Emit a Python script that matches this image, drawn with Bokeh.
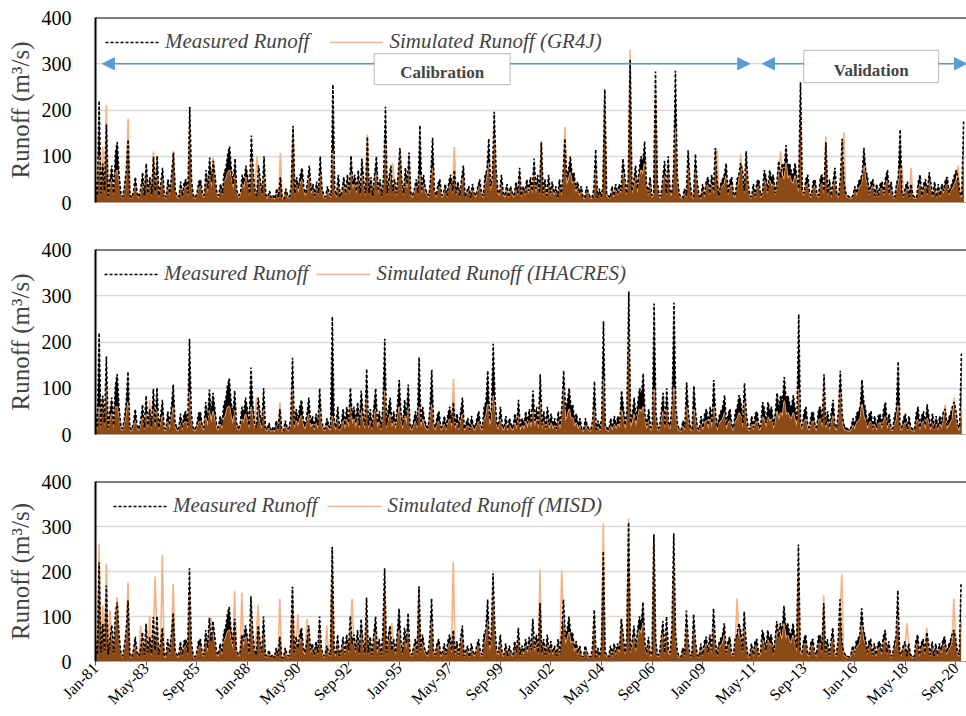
import numpy as np
from bokeh.plotting import figure
from bokeh.layouts import column
from bokeh.models import (Range1d, FixedTicker, Legend, LegendItem, Span, Arrow,
                          NormalHead, BoxAnnotation, Label)
from bokeh.embed import file_html
from bokeh.resources import INLINE

# Monthly runoff (m3/s), Jan-1981 .. Dec-2020, one row per year
measured = [
    45, 15, 220, 20, 84, 25, 169, 15, 50, 80, 20, 106,
    131, 60, 20, 12, 35, 70, 136, 15, 10, 25, 55, 20,
    12, 30, 65, 15, 84, 20, 55, 18, 99, 25, 101, 15,
    40, 75, 15, 12, 50, 20, 60, 108, 25, 15, 12, 45,
    15, 45, 50, 20, 207, 45, 15, 10, 20, 45, 50, 20,
    15, 70, 30, 97, 45, 90, 55, 20, 15, 40, 20, 65,
    75, 105, 121, 70, 40, 95, 25, 15, 20, 60, 45, 80,
    55, 20, 145, 65, 25, 15, 80, 45, 20, 100, 15, 12,
    25, 10, 15, 8, 30, 12, 55, 10, 8, 30, 15, 12,
    35, 166, 20, 55, 30, 60, 75, 30, 20, 45, 80, 25,
    40, 15, 45, 20, 100, 30, 15, 12, 35, 20, 15, 255,
    30, 15, 60, 12, 25, 55, 20, 60, 25, 101, 40, 60,
    25, 70, 20, 95, 45, 20, 142, 20, 55, 15, 60, 100,
    25, 50, 15, 60, 207, 20, 55, 80, 25, 50, 20, 60,
    118, 45, 20, 75, 40, 108, 20, 15, 30, 50, 20, 167,
    25, 60, 30, 20, 15, 55, 140, 25, 15, 40, 50, 15,
    20, 40, 15, 45, 60, 25, 70, 20, 45, 15, 50, 80,
    12, 25, 35, 10, 40, 20, 15, 35, 50, 20, 15, 60,
    70, 138, 35, 55, 196, 75, 25, 20, 60, 20, 15, 40,
    12, 35, 20, 15, 45, 20, 75, 15, 35, 20, 50, 25,
    55, 25, 95, 30, 60, 20, 130, 20, 50, 15, 60, 20,
    45, 20, 35, 12, 50, 20, 60, 138, 55, 70, 100, 60,
    65, 30, 45, 20, 35, 12, 10, 35, 20, 12, 10, 30,
    115, 10, 30, 12, 35, 245, 20, 15, 10, 35, 15, 40,
    20, 40, 25, 95, 60, 20, 50, 309, 25, 45, 80, 30,
    70, 100, 85, 132, 40, 20, 55, 15, 20, 283, 45, 15,
    15, 50, 90, 20, 100, 25, 20, 70, 285, 60, 20, 12,
    10, 30, 15, 113, 45, 15, 12, 105, 45, 15, 10, 40,
    15, 45, 55, 20, 60, 25, 118, 45, 15, 40, 50, 60,
    85, 20, 45, 55, 20, 15, 50, 60, 85, 70, 25, 111,
    45, 15, 12, 40, 15, 45, 50, 15, 20, 70, 55, 25,
    70, 50, 60, 20, 45, 90, 55, 85, 70, 124, 75, 85,
    65, 60, 85, 55, 30, 260, 25, 20, 50, 60, 20, 15,
    45, 50, 20, 15, 55, 60, 25, 130, 20, 50, 15, 45,
    75, 20, 15, 50, 138, 45, 20, 15, 12, 10, 15, 35,
    20, 45, 50, 60, 118, 70, 55, 20, 45, 50, 15, 40,
    15, 40, 45, 20, 55, 70, 20, 45, 15, 12, 40, 55,
    158, 20, 15, 35, 45, 12, 40, 15, 12, 10, 45, 60,
    15, 40, 50, 20, 65, 40, 15, 45, 12, 40, 15, 40,
    25, 50, 55, 20, 35, 45, 60, 70, 50, 20, 15, 175,
]

sim_gr4j = [
    30, 10, 100, 14, 120, 18, 210, 10, 35, 50, 14, 60,
    70, 40, 14, 8, 25, 45, 181, 10, 7, 18, 35, 14,
    8, 20, 40, 10, 85, 14, 38, 12, 110, 18, 60, 10,
    28, 50, 10, 8, 35, 14, 40, 112, 18, 10, 8, 30,
    10, 30, 35, 14, 160, 30, 10, 7, 14, 30, 35, 14,
    10, 45, 20, 60, 30, 97, 38, 14, 10, 28, 14, 45,
    50, 65, 70, 48, 28, 60, 18, 10, 14, 40, 30, 55,
    38, 14, 90, 45, 18, 100, 55, 30, 14, 60, 10, 8,
    18, 7, 10, 6, 20, 8, 107, 7, 6, 20, 10, 8,
    25, 160, 14, 38, 20, 40, 50, 20, 14, 30, 55, 18,
    28, 10, 30, 14, 65, 20, 10, 8, 25, 14, 10, 112,
    20, 10, 40, 8, 18, 38, 14, 40, 18, 65, 28, 40,
    18, 48, 14, 60, 30, 14, 147, 14, 38, 10, 40, 65,
    18, 35, 10, 40, 127, 14, 38, 55, 85, 35, 14, 40,
    115, 30, 14, 50, 28, 70, 14, 10, 20, 35, 14, 60,
    18, 40, 20, 14, 10, 38, 75, 18, 10, 28, 35, 10,
    14, 28, 10, 30, 40, 18, 120, 14, 30, 10, 35, 55,
    8, 18, 25, 7, 28, 14, 10, 25, 35, 14, 10, 40,
    48, 85, 25, 38, 145, 50, 18, 14, 40, 14, 10, 28,
    8, 25, 14, 10, 30, 14, 55, 10, 25, 14, 35, 18,
    38, 18, 65, 20, 40, 14, 133, 14, 35, 10, 40, 14,
    30, 14, 25, 8, 35, 14, 40, 163, 38, 48, 65, 40,
    45, 20, 30, 14, 25, 8, 7, 25, 14, 8, 7, 20,
    70, 7, 20, 8, 25, 240, 14, 10, 7, 25, 10, 28,
    14, 28, 18, 65, 40, 14, 35, 330, 18, 30, 55, 20,
    48, 70, 60, 85, 28, 14, 38, 10, 14, 245, 30, 10,
    10, 35, 60, 14, 70, 18, 14, 48, 160, 40, 14, 8,
    7, 20, 10, 75, 30, 10, 8, 70, 30, 10, 7, 28,
    10, 30, 38, 14, 40, 18, 80, 116, 10, 28, 35, 40,
    58, 14, 30, 38, 14, 10, 35, 40, 104, 48, 18, 75,
    30, 10, 8, 28, 10, 30, 35, 10, 14, 48, 38, 18,
    48, 35, 40, 14, 30, 60, 111, 58, 48, 85, 50, 58,
    45, 40, 58, 38, 20, 227, 18, 14, 35, 40, 14, 10,
    30, 35, 14, 10, 38, 40, 18, 143, 14, 35, 10, 30,
    50, 14, 10, 35, 100, 152, 14, 10, 8, 7, 10, 25,
    14, 30, 35, 40, 80, 48, 38, 14, 30, 35, 10, 28,
    10, 28, 30, 14, 38, 48, 14, 30, 10, 8, 28, 38,
    70, 80, 10, 25, 30, 8, 75, 10, 8, 7, 30, 40,
    10, 28, 35, 14, 45, 28, 10, 30, 8, 28, 10, 28,
    18, 35, 38, 14, 25, 30, 40, 48, 80, 14, 10, 100,
]

sim_ihacres = [
    25, 8, 60, 11, 80, 14, 106, 8, 28, 45, 11, 58,
    60, 33, 11, 7, 19, 38, 70, 8, 6, 14, 30, 11,
    7, 17, 36, 8, 46, 11, 75, 10, 54, 14, 55, 8,
    22, 41, 8, 7, 28, 11, 33, 59, 14, 8, 7, 25,
    8, 25, 28, 11, 91, 25, 8, 6, 11, 25, 28, 11,
    8, 38, 17, 53, 25, 50, 30, 11, 8, 22, 11, 36,
    41, 58, 60, 38, 22, 52, 14, 8, 11, 33, 25, 44,
    30, 11, 60, 36, 14, 80, 44, 25, 11, 55, 8, 7,
    14, 6, 8, 5, 17, 7, 70, 6, 5, 17, 8, 7,
    19, 100, 11, 30, 17, 33, 41, 17, 11, 25, 44, 14,
    22, 8, 25, 11, 55, 17, 8, 7, 19, 11, 8, 40,
    17, 8, 33, 7, 14, 30, 11, 33, 14, 60, 22, 33,
    14, 38, 11, 52, 25, 11, 78, 11, 30, 8, 33, 55,
    14, 28, 8, 33, 95, 11, 30, 44, 14, 28, 11, 33,
    60, 25, 11, 41, 22, 59, 11, 8, 17, 28, 11, 60,
    14, 33, 17, 11, 8, 30, 65, 14, 8, 22, 28, 8,
    11, 22, 8, 25, 33, 14, 120, 11, 25, 8, 28, 44,
    7, 14, 19, 6, 22, 11, 8, 19, 28, 11, 8, 33,
    38, 65, 19, 30, 84, 41, 14, 11, 33, 11, 8, 22,
    7, 19, 11, 8, 25, 11, 41, 8, 19, 11, 28, 14,
    30, 14, 52, 17, 33, 11, 70, 11, 28, 8, 33, 11,
    25, 11, 19, 7, 28, 11, 33, 101, 30, 38, 55, 33,
    36, 17, 25, 11, 19, 7, 6, 19, 11, 7, 6, 17,
    55, 6, 17, 7, 19, 121, 11, 8, 6, 19, 8, 22,
    11, 22, 14, 52, 33, 11, 28, 214, 14, 25, 44, 17,
    38, 55, 47, 60, 22, 11, 30, 8, 11, 99, 25, 8,
    8, 28, 50, 11, 55, 14, 11, 38, 102, 33, 11, 7,
    6, 17, 8, 60, 25, 8, 7, 55, 25, 8, 6, 22,
    8, 25, 30, 11, 33, 14, 60, 25, 8, 22, 28, 33,
    47, 11, 25, 30, 11, 8, 28, 33, 47, 38, 14, 70,
    25, 8, 7, 22, 8, 25, 28, 8, 11, 38, 30, 14,
    38, 28, 33, 11, 25, 50, 30, 47, 38, 73, 41, 47,
    36, 33, 47, 30, 17, 99, 14, 11, 28, 33, 11, 8,
    25, 28, 11, 8, 30, 33, 14, 100, 11, 28, 8, 25,
    41, 11, 8, 28, 90, 25, 11, 8, 7, 6, 8, 19,
    11, 25, 28, 33, 65, 38, 30, 11, 25, 28, 8, 22,
    8, 22, 25, 11, 30, 38, 11, 25, 8, 7, 22, 30,
    63, 11, 8, 19, 25, 7, 22, 8, 7, 6, 25, 33,
    8, 22, 28, 11, 36, 22, 8, 25, 7, 22, 8, 22,
    14, 28, 65, 11, 19, 25, 33, 80, 28, 11, 8, 60,
]

sim_misd = [
    30, 10, 262, 14, 125, 18, 218, 10, 113, 50, 14, 70,
    143, 40, 14, 8, 25, 45, 176, 10, 7, 18, 35, 14,
    8, 80, 40, 10, 60, 14, 102, 12, 60, 189, 55, 10,
    28, 237, 10, 8, 35, 14, 40, 172, 18, 10, 8, 30,
    10, 30, 35, 14, 152, 30, 10, 7, 14, 30, 35, 14,
    10, 45, 20, 60, 97, 60, 38, 14, 10, 28, 14, 45,
    50, 65, 70, 48, 28, 156, 18, 10, 14, 153, 30, 55,
    38, 14, 100, 45, 18, 60, 126, 30, 14, 60, 10, 8,
    18, 7, 10, 6, 20, 8, 139, 7, 6, 20, 10, 8,
    25, 166, 14, 38, 105, 40, 50, 20, 14, 95, 55, 18,
    28, 10, 30, 14, 65, 20, 10, 8, 80, 14, 10, 250,
    20, 10, 40, 8, 18, 38, 14, 40, 18, 65, 139, 40,
    18, 48, 14, 60, 30, 14, 100, 14, 38, 10, 40, 65,
    18, 35, 10, 40, 184, 14, 38, 55, 85, 35, 14, 40,
    70, 30, 14, 50, 28, 70, 14, 10, 20, 35, 14, 165,
    18, 40, 20, 14, 10, 38, 90, 18, 10, 28, 35, 10,
    14, 28, 10, 30, 40, 18, 221, 14, 30, 10, 35, 55,
    8, 18, 25, 7, 28, 14, 10, 25, 35, 14, 10, 40,
    48, 90, 25, 38, 150, 50, 18, 14, 40, 14, 10, 28,
    8, 25, 14, 10, 30, 14, 55, 10, 25, 14, 35, 18,
    38, 18, 65, 20, 40, 14, 204, 14, 35, 10, 40, 14,
    30, 14, 25, 8, 35, 14, 202, 90, 38, 48, 65, 40,
    45, 20, 30, 14, 25, 8, 7, 25, 14, 8, 7, 20,
    75, 7, 20, 8, 25, 307, 14, 10, 7, 25, 10, 28,
    14, 28, 18, 95, 40, 14, 35, 318, 18, 30, 55, 20,
    48, 70, 60, 85, 28, 14, 38, 10, 14, 278, 30, 10,
    10, 35, 60, 14, 70, 18, 14, 48, 217, 40, 14, 8,
    7, 20, 10, 75, 30, 10, 8, 70, 30, 10, 7, 28,
    10, 30, 38, 14, 40, 18, 80, 30, 10, 28, 35, 40,
    58, 14, 30, 38, 14, 10, 35, 140, 60, 48, 18, 75,
    30, 10, 8, 28, 10, 30, 35, 10, 14, 48, 38, 18,
    48, 35, 40, 14, 30, 60, 85, 58, 48, 85, 50, 58,
    45, 40, 58, 38, 20, 213, 18, 14, 35, 40, 14, 10,
    30, 35, 14, 10, 38, 40, 18, 147, 14, 35, 10, 30,
    50, 14, 10, 35, 100, 195, 14, 10, 8, 7, 10, 25,
    14, 30, 35, 40, 80, 48, 38, 14, 30, 35, 10, 28,
    10, 28, 30, 14, 38, 48, 14, 30, 10, 8, 28, 38,
    100, 30, 10, 25, 30, 85, 40, 10, 8, 7, 30, 40,
    10, 28, 35, 14, 75, 28, 10, 30, 8, 28, 10, 28,
    18, 35, 38, 14, 25, 30, 40, 140, 50, 14, 10, 90,
]

model_names = ["GR4J", "IHACRES", "MISD"]

# x-axis ticks every 28 months from Jan-81
tick_months = list(range(0, 480, 28))
tick_labels = ["Jan-81", "May-83", "Sep-85", "Jan-88", "May-90", "Sep-92",
               "Jan-95", "May-97", "Sep-99", "Jan-02", "May-04", "Sep-06",
               "Jan-09", "May-11", "Sep-13", "Jan-16", "May-18", "Sep-20"]

# calibration / validation periods (month index)
calib_period = (3.8, 361)
valid_period = (368, 480.6)

SERIF = "'Liberation Serif', 'Times New Roman', Times, serif"
ORANGE = "#F4B183"
BROWN = "#8C4A17"
BLUE = "#5B9BD5"

months = np.arange(len(measured))
meas = np.array(measured, dtype=float)


def panel(sim, name, height, left, top, bottom, x_end, legend_xy,
          legend_spacing, show_labels):
    p = figure(width=966, height=height, output_backend="svg", toolbar_location=None,
               x_range=Range1d(0, x_end), y_range=Range1d(0, 400),
               min_border_left=left, min_border_right=0,
               min_border_top=top, min_border_bottom=bottom)
    p.outline_line_color = None

    s = np.array(sim, dtype=float)
    # dense measured band, simulated line, overlap band, measured dashed trace
    p.varea(x=months, y1=np.zeros_like(meas), y2=meas, fill_color="black")
    sim_line = p.line(months, s, color=ORANGE, line_width=1.6)
    p.varea(x=months, y1=np.zeros_like(s), y2=np.minimum(meas, s), fill_color=BROWN)
    meas_line = p.line(months, meas, color="black", line_width=1.6, line_dash="3 2")

    p.yaxis.ticker = FixedTicker(ticks=[0, 100, 200, 300, 400])
    p.yaxis.axis_label = "Runoff (m³/s)"
    p.yaxis.axis_label_text_font = SERIF
    p.yaxis.axis_label_text_font_style = "normal"
    p.yaxis.axis_label_text_font_size = "25px"
    p.yaxis.axis_label_standoff = 5
    p.yaxis.major_label_text_font = SERIF
    p.yaxis.major_label_text_font_size = "20px"
    p.yaxis.major_label_text_color = "black"
    p.yaxis.major_label_standoff = 18
    p.yaxis.major_tick_line_color = None
    p.yaxis.minor_tick_line_color = None
    p.yaxis.axis_line_color = "black"
    p.yaxis.axis_line_width = 2

    p.xaxis.minor_tick_line_color = None
    p.xaxis.axis_line_color = "#A6A6A6"
    p.xaxis.axis_line_width = 1
    if show_labels:
        p.xaxis.ticker = FixedTicker(ticks=tick_months)
        p.xaxis.major_label_overrides = {m: lab for m, lab in zip(tick_months, tick_labels)}
        p.xaxis.major_label_orientation = np.pi / 4
        p.xaxis.major_label_text_font = SERIF
        p.xaxis.major_label_text_font_size = "16px"
        p.xaxis.major_label_text_color = "black"
        p.xaxis.major_label_standoff = 0
        p.xaxis.major_tick_line_color = "#595959"
        p.xaxis.major_tick_out = 4
        p.xaxis.major_tick_in = 0
    else:
        p.xaxis.ticker = FixedTicker(ticks=[])
        p.xaxis.major_tick_line_color = None

    p.xgrid.grid_line_color = None
    p.ygrid.ticker = FixedTicker(ticks=[100, 200, 300])
    p.ygrid.grid_line_color = "#D9D9D9"
    p.ygrid.grid_line_width = 1.5

    p.add_layout(Span(location=400, dimension="width", line_color="black", line_width=2))

    legend = Legend(items=[
        LegendItem(label="Measured Runoff", renderers=[meas_line]),
        LegendItem(label=f"Simulated Runoff ({name})", renderers=[sim_line]),
    ], orientation="horizontal", location=legend_xy,
        border_line_color=None, background_fill_alpha=0,
        label_text_font=SERIF, label_text_font_style="italic",
        label_text_font_size="21px", glyph_width=54, glyph_height=24,
        label_height=24, label_standoff=6, spacing=legend_spacing,
        padding=0, margin=0)
    p.add_layout(legend)
    return p


p1 = panel(sim_gr4j, model_names[0], 232, 88, 17, 30, 480.6, (10, 148), 20, False)
p2 = panel(sim_ihacres, model_names[1], 232, 92, 17, 30, 481.8, (9, 148), 8, False)
p3 = panel(sim_misd, model_names[2], 252, 95, 17, 55, 482.0, (18, 143), 10, True)

# calibration / validation arrows and boxes on the first panel
for (x0, x1) in (calib_period, valid_period):
    p1.add_layout(Arrow(x_start=x0, y_start=300, x_end=x1, y_end=300,
                        line_color=BLUE, line_width=1.5,
                        start=NormalHead(size=12, fill_color=BLUE, line_color=BLUE),
                        end=NormalHead(size=12, fill_color=BLUE, line_color=BLUE)))

for (l, r, b, t, txt) in ((153.8, 228.8, 255, 322, "Calibration"),
                          (390.8, 465.2, 259, 329, "Validation")):
    p1.add_layout(BoxAnnotation(left=l, right=r, bottom=b, top=t,
                                fill_color="white", fill_alpha=1,
                                line_color="#404040", line_width=1.2))
    p1.add_layout(Label(x=(l + r) / 2, y=(b + t) / 2 - 8, text=txt,
                        text_font=SERIF, text_font_style="bold",
                        text_font_size="17px", text_align="center",
                        text_baseline="middle"))

layout = column(p1, p2, p3, spacing=0)
open("out.html", "w").write(file_html(layout, INLINE))
